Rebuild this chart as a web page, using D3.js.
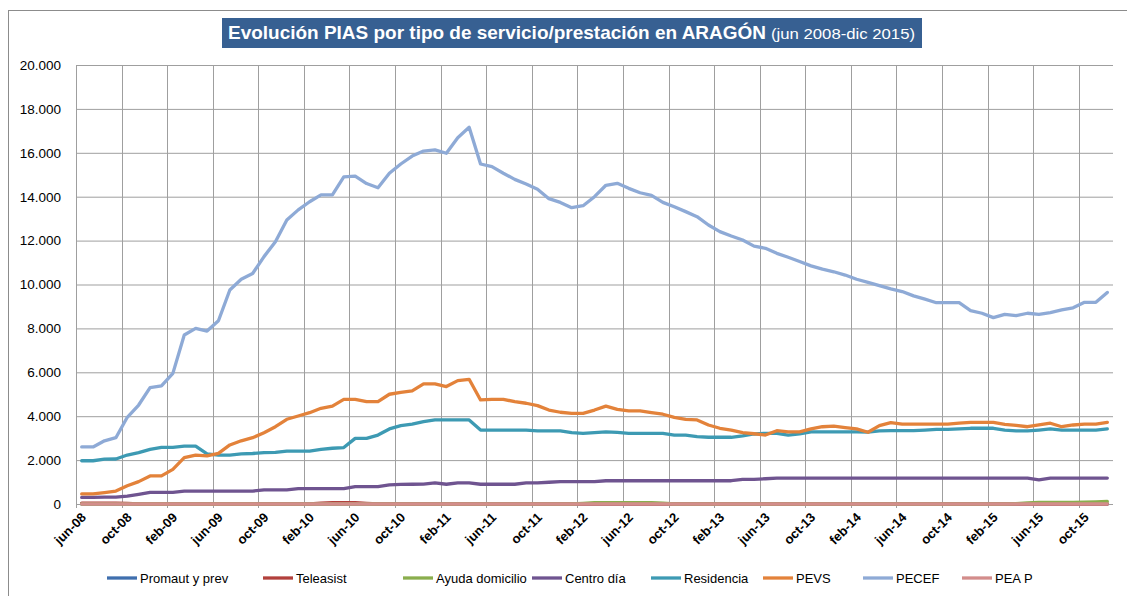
<!DOCTYPE html>
<html>
<head>
<meta charset="utf-8">
<script src="https://cdn.jsdelivr.net/npm/d3@7"></script>
<style>
	body { margin: 0; background: #fff; }
	svg { display: block; }
	text { font-family: "Liberation Sans", Arial, sans-serif; }
</style>
</head>
<body>
<div id="chart"></div>
<script>
// categories (jun 2008 - dic 2015)
var months = [
	"jun-08","jul-08","ago-08","sep-08","oct-08","nov-08","dic-08",
	"ene-09","feb-09","mar-09","abr-09","may-09","jun-09","jul-09","ago-09","sep-09","oct-09","nov-09","dic-09",
	"ene-10","feb-10","mar-10","abr-10","may-10","jun-10","jul-10","ago-10","sep-10","oct-10","nov-10","dic-10",
	"ene-11","feb-11","mar-11","abr-11","may-11","jun-11","jul-11","ago-11","sep-11","oct-11","nov-11","dic-11",
	"ene-12","feb-12","mar-12","abr-12","may-12","jun-12","jul-12","ago-12","sep-12","oct-12","nov-12","dic-12",
	"ene-13","feb-13","mar-13","abr-13","may-13","jun-13","jul-13","ago-13","sep-13","oct-13","nov-13","dic-13",
	"ene-14","feb-14","mar-14","abr-14","may-14","jun-14","jul-14","ago-14","sep-14","oct-14","nov-14","dic-14",
	"ene-15","feb-15","mar-15","abr-15","may-15","jun-15","jul-15","ago-15","sep-15","oct-15","nov-15","dic-15"
];

var tickLabels = ["jun-08","oct-08","feb-09","jun-09","oct-09","feb-10","jun-10","oct-10","feb-11","jun-11","oct-11","feb-12",
	"jun-12","oct-12","feb-13","jun-13","oct-13","feb-14","jun-14","oct-14","feb-15","jun-15","oct-15"];

var yTicks = [0, 2000, 4000, 6000, 8000, 10000, 12000, 14000, 16000, 18000, 20000];

// series values, one row per year
var promaut = [
	0,0,0,0,0,0,0,
	0,0,0,0,0,0,0,0,0,0,0,0,
	0,0,0,0,0,0,0,0,0,0,0,0,
	0,0,0,0,0,0,0,0,0,0,0,0,
	0,0,0,0,0,0,0,0,0,0,0,0,
	0,0,0,0,0,0,0,0,0,0,0,0,
	0,0,0,0,0,0,0,0,0,0,0,0,
	0,0,0,0,0,0,0,0,0,0,0,0
];
var teleasist = [
	40,40,40,40,30,0,0,
	0,0,0,0,0,0,0,0,0,0,0,0,
	0,0,40,60,60,60,30,0,0,0,0,0,
	0,0,0,0,0,0,0,0,0,0,0,0,
	0,0,0,0,0,0,0,0,0,0,0,0,
	0,0,0,0,0,0,0,0,0,0,0,0,
	0,0,0,0,0,0,0,0,0,0,0,0,
	0,0,0,0,0,0,0,0,0,0,0,0
];
var ayuda = [
	0,0,0,0,0,0,0,
	0,0,0,0,0,0,0,0,0,0,0,0,
	0,0,0,0,0,0,0,0,0,0,0,0,
	0,0,0,0,0,0,0,0,0,0,0,0,
	0,30,60,60,60,60,60,60,40,0,0,0,
	0,0,0,0,0,0,0,0,0,0,0,0,
	0,0,0,0,0,0,0,0,0,0,0,0,
	0,0,0,20,50,70,70,70,70,80,100,120
];
var centroDia = [
	300,300,310,310,360,440,530,
	530,530,590,590,590,590,590,590,590,640,640,640,
	700,700,700,700,700,790,790,790,870,890,900,910,
	960,900,960,960,900,900,900,900,960,960,990,1020,
	1020,1020,1020,1060,1060,1060,1060,1060,1060,1060,1060,1060,
	1060,1060,1060,1120,1120,1150,1180,1180,1180,1180,1180,1180,
	1180,1180,1180,1180,1180,1180,1180,1180,1180,1180,1180,1180,
	1180,1180,1180,1180,1180,1100,1180,1180,1180,1180,1180,1180
];
var residencia = [
	1970,1970,2040,2050,2230,2340,2490,
	2580,2580,2640,2640,2280,2230,2230,2280,2300,2340,2350,2410,
	2410,2410,2490,2540,2570,2990,2990,3140,3420,3570,3640,3750,
	3830,3830,3830,3830,3370,3370,3370,3370,3370,3330,3330,3330,
	3250,3220,3250,3290,3260,3220,3220,3220,3220,3140,3140,3070,
	3040,3040,3040,3100,3190,3220,3220,3140,3190,3290,3290,3290,
	3290,3290,3270,3330,3340,3340,3340,3370,3400,3400,3420,3450,
	3450,3450,3370,3330,3330,3370,3420,3370,3370,3370,3370,3420
];
var pevs = [
	460,460,520,590,830,1020,1280,
	1280,1580,2110,2230,2190,2310,2690,2880,3020,3250,3520,3860,
	4010,4160,4360,4460,4770,4770,4660,4660,5000,5090,5150,5470,
	5470,5350,5620,5680,4740,4770,4770,4660,4590,4480,4280,4180,
	4130,4130,4280,4460,4310,4240,4240,4160,4090,3950,3860,3830,
	3600,3450,3370,3250,3200,3140,3340,3290,3290,3420,3520,3550,
	3480,3420,3270,3570,3710,3640,3640,3640,3640,3640,3680,3720,
	3720,3720,3630,3580,3520,3600,3680,3520,3600,3640,3640,3720
];
var pecef = [
	2600,2600,2880,3020,3950,4510,5300,
	5380,5950,7700,8000,7880,8350,9750,10240,10500,11270,11950,12940,
	13400,13770,14080,14080,14900,14940,14600,14410,15070,15490,15850,16080,
	16130,15980,16690,17160,15490,15370,15070,14790,14580,14340,13910,13740,
	13500,13590,14000,14520,14610,14380,14180,14060,13740,13540,13320,13090,
	12710,12410,12210,12030,11750,11650,11420,11240,11050,10850,10700,10580,
	10430,10240,10100,9950,9800,9680,9480,9330,9170,9170,9170,8810,
	8690,8490,8640,8580,8690,8640,8720,8840,8940,9190,9190,9640
];
var peap = [
	0,0,0,0,0,0,0,
	0,0,0,0,0,0,0,0,0,0,0,0,
	0,0,0,0,0,0,0,0,0,0,0,0,
	0,0,0,0,0,0,0,0,0,0,0,0,
	0,0,0,0,0,0,0,0,0,0,0,0,
	0,0,0,0,0,0,0,0,0,0,0,0,
	0,0,0,0,0,0,0,0,0,0,0,0,
	0,0,0,0,0,0,0,0,0,0,0,0
];

var seriesNames = ["Promaut y prev", "Teleasist", "Ayuda domicilio", "Centro día", "Residencia", "PEVS", "PECEF", "PEA P"];
var seriesValues = [promaut, teleasist, ayuda, centroDia, residencia, pevs, pecef, peap];
var seriesColors = ["#3f6fae", "#b2403c", "#8aae4d", "#6f5490", "#3d9ab3", "#e3823a", "#8eaad6", "#d38d8b"];
var legendX = [107, 263, 403, 532, 651, 763, 863, 962];

function Chart (targetDomElement) {
	var width = 1127;
	var height = 596;
	var plot = { left: 76, right: 1113, top: 65, bottom: 504 };
	var svg, x, y;
	var fmt = d3.formatLocale({ decimal: ",", thousands: ".", grouping: [3], currency: ["", "€"] }).format(",d");

	svg = d3.select(targetDomElement)
		.append("svg")
		.attr("width", width)
		.attr("height", height);

	x = d3.scaleBand().domain(months).range([plot.left, plot.right]);
	y = d3.scaleLinear().domain([0, 20000]).range([plot.bottom, plot.top]);

	// outer frame
	svg.append("rect")
		.attr("x", 8.5).attr("y", 10.5)
		.attr("width", 1140).attr("height", 600)
		.attr("fill", "none")
		.attr("stroke", "#8c8c8c");

	// title
	var title = svg.append("g");
	title.append("rect")
		.attr("x", 222).attr("y", 18)
		.attr("width", 700).attr("height", 30)
		.attr("fill", "#376092");
	title.append("text")
		.attr("x", 228).attr("y", 39)
		.attr("fill", "#fff")
		.attr("font-size", 19)
		.attr("font-weight", "bold")
		.attr("textLength", 538)
		.attr("lengthAdjust", "spacingAndGlyphs")
		.text("Evolución PIAS por tipo de servicio/prestación en ARAGÓN");
	title.append("text")
		.attr("x", 771).attr("y", 39)
		.attr("fill", "#fff")
		.attr("font-size", 14.5)
		.attr("textLength", 144)
		.attr("lengthAdjust", "spacingAndGlyphs")
		.text("(jun 2008-dic 2015)");

	// horizontal grid + y labels
	var yAxis = svg.append("g")
		.attr("transform", "translate(" + plot.left + ",0)")
		.call(d3.axisLeft(y)
			.tickValues(yTicks)
			.tickSize(-(plot.right - plot.left))
			.tickPadding(15)
			.tickFormat(fmt));
	yAxis.select(".domain").attr("stroke", "#999");
	yAxis.selectAll(".tick line").attr("stroke", "#9f9f9f");
	yAxis.selectAll("text")
		.attr("font-size", 13.5)
		.attr("fill", "#000")
		.style("font-family", "Liberation Sans, Arial, sans-serif");

	// vertical grid at every 4th month
	svg.append("g").selectAll("line")
		.data(tickLabels)
		.enter()
		.append("line")
		.attr("x1", function (d) { return Math.round(x(d)) + 0.5; })
		.attr("x2", function (d) { return Math.round(x(d)) + 0.5; })
		.attr("y1", plot.top)
		.attr("y2", plot.bottom + 4)
		.attr("stroke", "#9f9f9f");

	// x labels
	svg.append("g").selectAll("text")
		.data(tickLabels)
		.enter()
		.append("text")
		.attr("transform", function (d) {
			return "translate(" + (x(d) + x.bandwidth() / 2 + 2) + "," + (plot.bottom + 11) + ") rotate(-45)";
		})
		.attr("text-anchor", "end")
		.attr("dy", "0.35em")
		.attr("font-size", 13)
		.attr("font-weight", "bold")
		.attr("fill", "#000")
		.text(function (d) { return d; });

	// lines
	var line = d3.line()
		.x(function (d, i) { return x(months[i]) + x.bandwidth() / 2; })
		.y(function (d) { return y(d); })
		.curve(d3.curveLinear);

	svg.append("g").selectAll("path")
		.data(seriesValues)
		.enter()
		.append("path")
		.attr("d", line)
		.attr("fill", "none")
		.attr("stroke", function (d, i) { return seriesColors[i]; })
		.attr("stroke-width", 3.3)
		.attr("stroke-linejoin", "round")
		.attr("stroke-linecap", "round");

	// legend
	var legend = svg.append("g").selectAll("g")
		.data(seriesNames)
		.enter()
		.append("g")
		.attr("transform", function (d, i) { return "translate(" + legendX[i] + ",578)"; });
	legend.append("line")
		.attr("x1", 0).attr("x2", 30)
		.attr("stroke", function (d, i) { return seriesColors[i]; })
		.attr("stroke-width", 3.3);
	legend.append("text")
		.attr("x", 33)
		.attr("dy", "0.35em")
		.attr("font-size", 13)
		.attr("fill", "#000")
		.text(function (d) { return d; });

	return svg;
}

Chart(document.getElementById("chart"));
</script>
</body>
</html>
